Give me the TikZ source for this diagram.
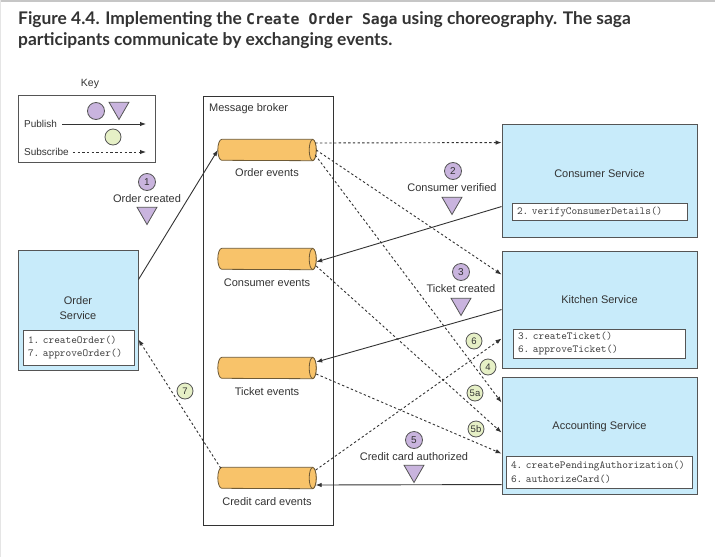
\documentclass[tikz,border=0pt]{standalone}
\usepackage{fontspec}
\setmainfont{Liberation Sans}
\setmonofont{Latin Modern Mono}
\newfontfamily\titlefont{Lato}
\newfontfamily\titlemono{DejaVu Sans Mono}
\usetikzlibrary{shapes.geometric,arrows.meta,calc}
\definecolor{svcblue}{HTML}{C8EBFA}
\definecolor{edgegray}{HTML}{555555}
\definecolor{txt}{HTML}{333333}
\definecolor{cylfill}{HTML}{F8C36A}
\definecolor{cylline}{HTML}{6E5A36}
\definecolor{pubfill}{HTML}{C9B4DE}
\definecolor{subfill}{HTML}{E6F0C6}
\newcommand\evcyl[3]{%
  \node[cylbox] (#1) at (#2,#3) {};
  \draw[cylstyle] ($(#1.north east)+(-3.5,0)$) -- ($(#1.north west)+(4,0)$)
     arc[start angle=270, end angle=90, x radius=4, y radius=10.5]
     -- ($(#1.south east)+(-3.5,0)$)
     arc[start angle=90, end angle=-90, x radius=3.5, y radius=10.5] -- cycle;
  \draw[cylstyle] ($(#1.east)+(-3.5,0)$) ellipse[x radius=3.5, y radius=10.5];
}
\begin{document}
\begin{tikzpicture}[x=1pt,y=-1pt,
  every node/.style={text=txt},
  lbl/.style={font=\fontsize{11}{13}\selectfont, inner sep=0pt},
  svc/.style={draw=edgegray, line width=0.9pt, fill=svcblue, inner sep=0pt},
  opsbox/.style={draw=edgegray, line width=0.8pt, fill=white, inner xsep=5pt, inner ysep=0pt, align=left, font=\fontsize{10.8}{13.5}\selectfont\ttfamily, text=black!75},
  cylbox/.style={minimum width=98, minimum height=21, inner sep=0pt},
  cylstyle/.style={draw=cylline, fill=cylfill, line width=0.8pt},
  pubdot/.style={circle, draw=edgegray, line width=0.8pt, fill=pubfill, minimum size=17, inner sep=0pt, font=\fontsize{10}{10}\selectfont},
  subdot/.style={circle, draw=edgegray, line width=0.8pt, fill=subfill, minimum size=16, inner sep=0pt, font=\fontsize{9.5}{10}\selectfont},
  pubtri/.style={regular polygon, regular polygon sides=3, shape border rotate=180, draw=edgegray, line width=0.8pt, fill=pubfill, minimum size=23, inner sep=0pt},
  publine/.style={draw=txt, line width=0.9pt, -{Latex[length=6pt,width=4.5pt]}},
  subline/.style={draw=txt, line width=0.9pt, dash pattern=on 2.4pt off 2.3pt, -{Latex[length=6pt,width=4.5pt]}},
]
\useasboundingbox (0,0) rectangle (715,557);
\fill[white] (0,0) rectangle (715,557);
\draw[gray!45, line width=1.5pt] (0,0.75) -- (715,0.75);
\draw[gray!20, line width=1pt] (0.5,0) -- (0.5,557);

% title
\node[anchor=base west, align=left, inner sep=0pt, font=\titlefont\bfseries\fontsize{17.4}{20.5}\selectfont, text=txt] (title) at (18,45)
  {Figure 4.4. Implementing the {\titlemono\bfseries\fontsize{14.8}{20}\selectfont Create Order Saga} using choreography. The saga\\participants communicate by exchanging events.};

% key
\node[lbl, font=\fontsize{10.5}{12}\selectfont] (keylabel) at (90,84) {Key};
\node[draw=edgegray, line width=0.8pt, minimum width=137, minimum height=67, inner sep=0pt] (key) at (86.5,128.5) {};
\node[pubdot] (kc1) at (96,111) {};
\node[pubtri] (kt1) at (119,108) {};
\node[lbl, anchor=west, font=\fontsize{10}{12}\selectfont] (keypub) at (24,124) {Publish};
\coordinate (keypubend) at (146,124);
\draw[publine] ($(keypub.east)+(5,0)$) -- (keypubend);
\node[subdot] (kc2) at (113,137) {};
\node[lbl, anchor=west, font=\fontsize{10}{12}\selectfont] (keysub) at (24,152) {Subscribe};
\coordinate (keysubend) at (146,152);
\draw[subline] ($(keysub.east)+(4,0)$) -- (keysubend);

% broker
\node[draw=txt, line width=0.9pt, fill=white, minimum width=130, minimum height=429, inner sep=0pt] (broker) at (268,310.5) {};
\node[lbl, anchor=west] (brokerlabel) at (209,109) {Message broker};
\evcyl{oe}{267}{150}
\evcyl{ce}{267}{259}
\evcyl{te}{267}{368}
\evcyl{cce}{267}{478}
\node[lbl] (oelabel) at (267,173) {Order events};
\node[lbl] (celabel) at (267,283) {Consumer events};
\node[lbl] (telabel) at (267,392) {Ticket events};
\node[lbl] (ccelabel) at (267,502) {Credit card events};

% services
\node[svc, minimum width=120, minimum height=120] (order) at (78,310) {};
\node[lbl, align=center, font=\fontsize{11}{15}\selectfont] (ordername) at (78,308) {Order\\Service};
\node[opsbox, minimum width=111, minimum height=35, text width=101] (orderops) at (78.5,347.5) {1.~createOrder()\\7.~approveOrder()};

\node[svc, minimum width=195, minimum height=113] (consumer) at (599.5,180.5) {};
\node[lbl] (consumername) at (599.5,174) {Consumer Service};
\node[opsbox, minimum width=175, minimum height=17, text width=165] (consumerops) at (599.5,211.5) {2.~verifyConsumerDetails()};

\node[svc, minimum width=195, minimum height=117] (kitchen) at (599.5,309.5) {};
\node[lbl] (kitchenname) at (599.5,300) {Kitchen Service};
\node[opsbox, minimum width=172, minimum height=29, text width=162] (kitchenops) at (599,343.5) {3.~createTicket()\\6.~approveTicket()};

\node[svc, minimum width=195, minimum height=117] (accounting) at (599.5,435.5) {};
\node[lbl] (accountingname) at (599.5,427) {Accounting Service};
\node[opsbox, minimum width=186, minimum height=32, text width=176] (accountingops) at (599,472) {4.~createPendingAuthorization()\\6.~authorizeCard()};

% publish connectors
\draw[publine] ($(order.north east)+(0,30)$) -- (oe.west);
\draw[publine] ($(consumer.north west)+(0,83)$) -- ($(ce.east)+(0,3)$);
\draw[publine] ($(kitchen.north west)+(0,59)$) -- ($(te.east)+(0,-6)$);
\draw[publine] ($(accounting.north west)+(0,108)$) -- ($(cce.east)+(-0.5,7)$);

% subscribe connectors
\draw[subline] ($(oe.east)+(-1,-7)$) -- ($(consumer.north west)+(0,19)$);
\draw[subline] ($(oe.east)+(0,0)$) -- ($(kitchen.north west)+(0,24)$);
\draw[subline] ($(oe.east)+(-1,5)$) -- ($(accounting.north west)+(0,26)$);
\draw[subline] ($(ce.east)+(0,7)$) -- ($(accounting.north west)+(0,56)$);
\draw[subline] ($(te.east)+(0,6)$) -- ($(accounting.north west)+(0,77)$);
\draw[subline] ($(cce.east)+(-0.5,-8)$) -- ($(kitchen.north west)+(0,88)$);
\draw[subline] ($(cce.north west)+(3,1)$) -- ($(order.north east)+(0,90)$);

% labels
\node[pubdot] (n1) at (147,182) {1};
\node[lbl] (l1) at (147,199) {Order created};
\node[pubtri] (t1) at (147,213) {};
\node[pubdot] (n2) at (453,171) {2};
\node[lbl] (l2) at (452,188) {Consumer verified};
\node[pubtri] (t2) at (452,203) {};
\node[pubdot] (n3) at (461,272) {3};
\node[lbl] (l3) at (461,289) {Ticket created};
\node[pubtri] (t3) at (461,304) {};
\node[pubdot] (n5) at (414,440) {5};
\node[lbl] (l5) at (414,457) {Credit card authorized};
\node[pubtri] (t5) at (414,471) {};
\node[subdot] (n4) at (488,367) {4};
\node[subdot] (n5a) at (475,393) {5a};
\node[subdot] (n5b) at (476,429) {5b};
\node[subdot] (n6) at (474,341) {6};
\node[subdot] (n7) at (185,391) {7};
\end{tikzpicture}
\end{document}
